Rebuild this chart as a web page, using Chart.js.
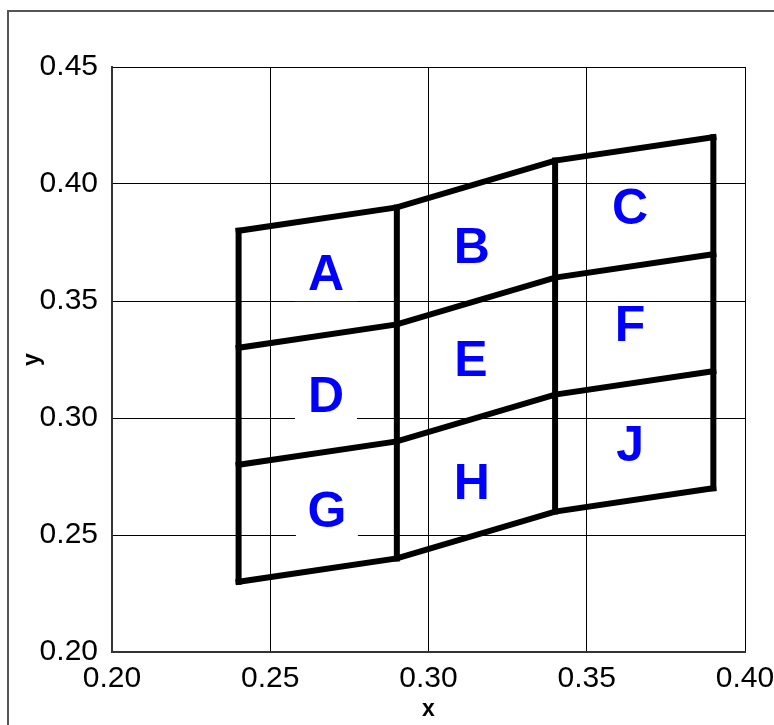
<!DOCTYPE html>
<html>
<head>
<meta charset="utf-8">
<script src="https://cdn.jsdelivr.net/npm/chart.js@4.4.1/dist/chart.umd.min.js"></script>
<style>
  html, body { margin: 0; padding: 0; background: #fff; }
  #wrap { width: 774px; height: 725px; }
</style>
</head>
<body>
<div id="wrap"><canvas id="chart" width="774" height="725"></canvas></div>
<script>
// grid of the distorted cells: column x positions and the four row lines
const colX = [0.24, 0.29, 0.34, 0.39];
const topRow = [0.38, 0.39, 0.41, 0.42];
const upperRow = [0.33, 0.34, 0.36, 0.37];
const lowerRow = [0.28, 0.29, 0.31, 0.32];
const bottomRow = [0.23, 0.24, 0.26, 0.27];

// cell labels and where they sit
const cellNames = ['A', 'B', 'C', 'D', 'E', 'F', 'G', 'H', 'J'];
const cellX = [0.2676, 0.3137, 0.3637, 0.2676, 0.3134, 0.3637, 0.2679, 0.3137, 0.3637];
const cellY = [0.3615, 0.3731, 0.3897, 0.3094, 0.3248, 0.3397, 0.2603, 0.2722, 0.2885];

// axis ticks
const xTicks = [0.20, 0.25, 0.30, 0.35, 0.40];
const yTicks = [0.20, 0.25, 0.30, 0.35, 0.40, 0.45];

const rows = [topRow, upperRow, lowerRow, bottomRow];

function lineSet(points) {
    return {
        data: points,
        showLine: true,
        borderColor: '#000',
        borderWidth: 6,
        borderCapStyle: 'square',
        borderJoinStyle: 'miter',
        pointRadius: 0,
        tension: 0,
        fill: false
    };
}

const datasets = [];
rows.forEach(row => {
    datasets.push(lineSet(colX.map((x, i) => ({ x: x, y: row[i] }))));
});
colX.forEach((x, i) => {
    datasets.push(lineSet(rows.map(row => ({ x: x, y: row[i] }))));
});

// outer frame + white background
const framePlugin = {
    id: 'frame',
    beforeDraw(chart) {
        const ctx = chart.ctx;
        ctx.save();
        ctx.fillStyle = '#fff';
        ctx.fillRect(0, 0, chart.width, chart.height);
        ctx.strokeStyle = '#555';
        ctx.lineWidth = 2;
        ctx.beginPath();
        ctx.moveTo(8, chart.height);
        ctx.lineTo(8, 11);
        ctx.lineTo(chart.width, 11);
        ctx.stroke();
        ctx.restore();
    }
};

// blue cell letters on white boxes, under the thick lines
const labelPlugin = {
    id: 'cellLabels',
    beforeDatasetsDraw(chart) {
        const ctx = chart.ctx;
        const xs = chart.scales.x, ys = chart.scales.y;
        ctx.save();
        ctx.font = 'bold 50px "Liberation Sans", Arial, sans-serif';
        ctx.textAlign = 'center';
        ctx.textBaseline = 'middle';
        cellNames.forEach((name, i) => {
            const px = xs.getPixelForValue(cellX[i]);
            const py = ys.getPixelForValue(cellY[i]);
            ctx.fillStyle = '#fff';
            ctx.fillRect(px - 31, py - 22, 62, 49);
            ctx.fillStyle = '#0000ff';
            ctx.fillText(name, px, py + 2);
        });
        ctx.restore();
    }
};

const tickFont = { family: '"Liberation Sans", Arial, sans-serif', size: 30 };
const titleFont = { family: '"Liberation Sans", Arial, sans-serif', size: 23, weight: 'bold' };

new Chart(document.getElementById('chart').getContext('2d'), {
    type: 'scatter',
    data: { datasets: datasets },
    options: {
        responsive: false,
        animation: false,
        layout: { padding: { left: 0, top: 67, right: 29, bottom: 0 } },
        plugins: { legend: { display: false }, tooltip: { enabled: false } },
        scales: {
            x: {
                type: 'linear',
                min: 0.20,
                max: 0.40,
                afterFit(scale) {
                    scale.height = 73;
                    scale.paddingLeft = 0;
                    scale.paddingRight = 0;
                },
                afterBuildTicks(scale) { scale.ticks = xTicks.map(v => ({ value: v })); },
                grid: { color: '#000', lineWidth: 1, drawTicks: false },
                border: { color: '#333', width: 2 },
                ticks: {
                    color: '#000',
                    font: tickFont,
                    padding: 9,
                    maxRotation: 0,
                    callback: v => v.toFixed(2)
                },
                title: { display: true, text: 'x', color: '#000', font: titleFont, padding: { top: 0, bottom: 2 } }
            },
            y: {
                type: 'linear',
                min: 0.20,
                max: 0.45,
                afterFit(scale) {
                    scale.width = 112;
                    scale.paddingTop = 0;
                    scale.paddingBottom = 0;
                },
                afterBuildTicks(scale) { scale.ticks = yTicks.map(v => ({ value: v })); },
                grid: { color: '#000', lineWidth: 1, drawTicks: false },
                border: { color: '#333', width: 2 },
                ticks: {
                    color: '#000',
                    font: tickFont,
                    padding: 14,
                    callback: v => v.toFixed(2)
                },
                title: { display: true, text: 'y', color: '#000', font: titleFont, padding: { top: 19, bottom: 0 } }
            }
        }
    },
    plugins: [framePlugin, labelPlugin]
});
</script>
</body>
</html>
